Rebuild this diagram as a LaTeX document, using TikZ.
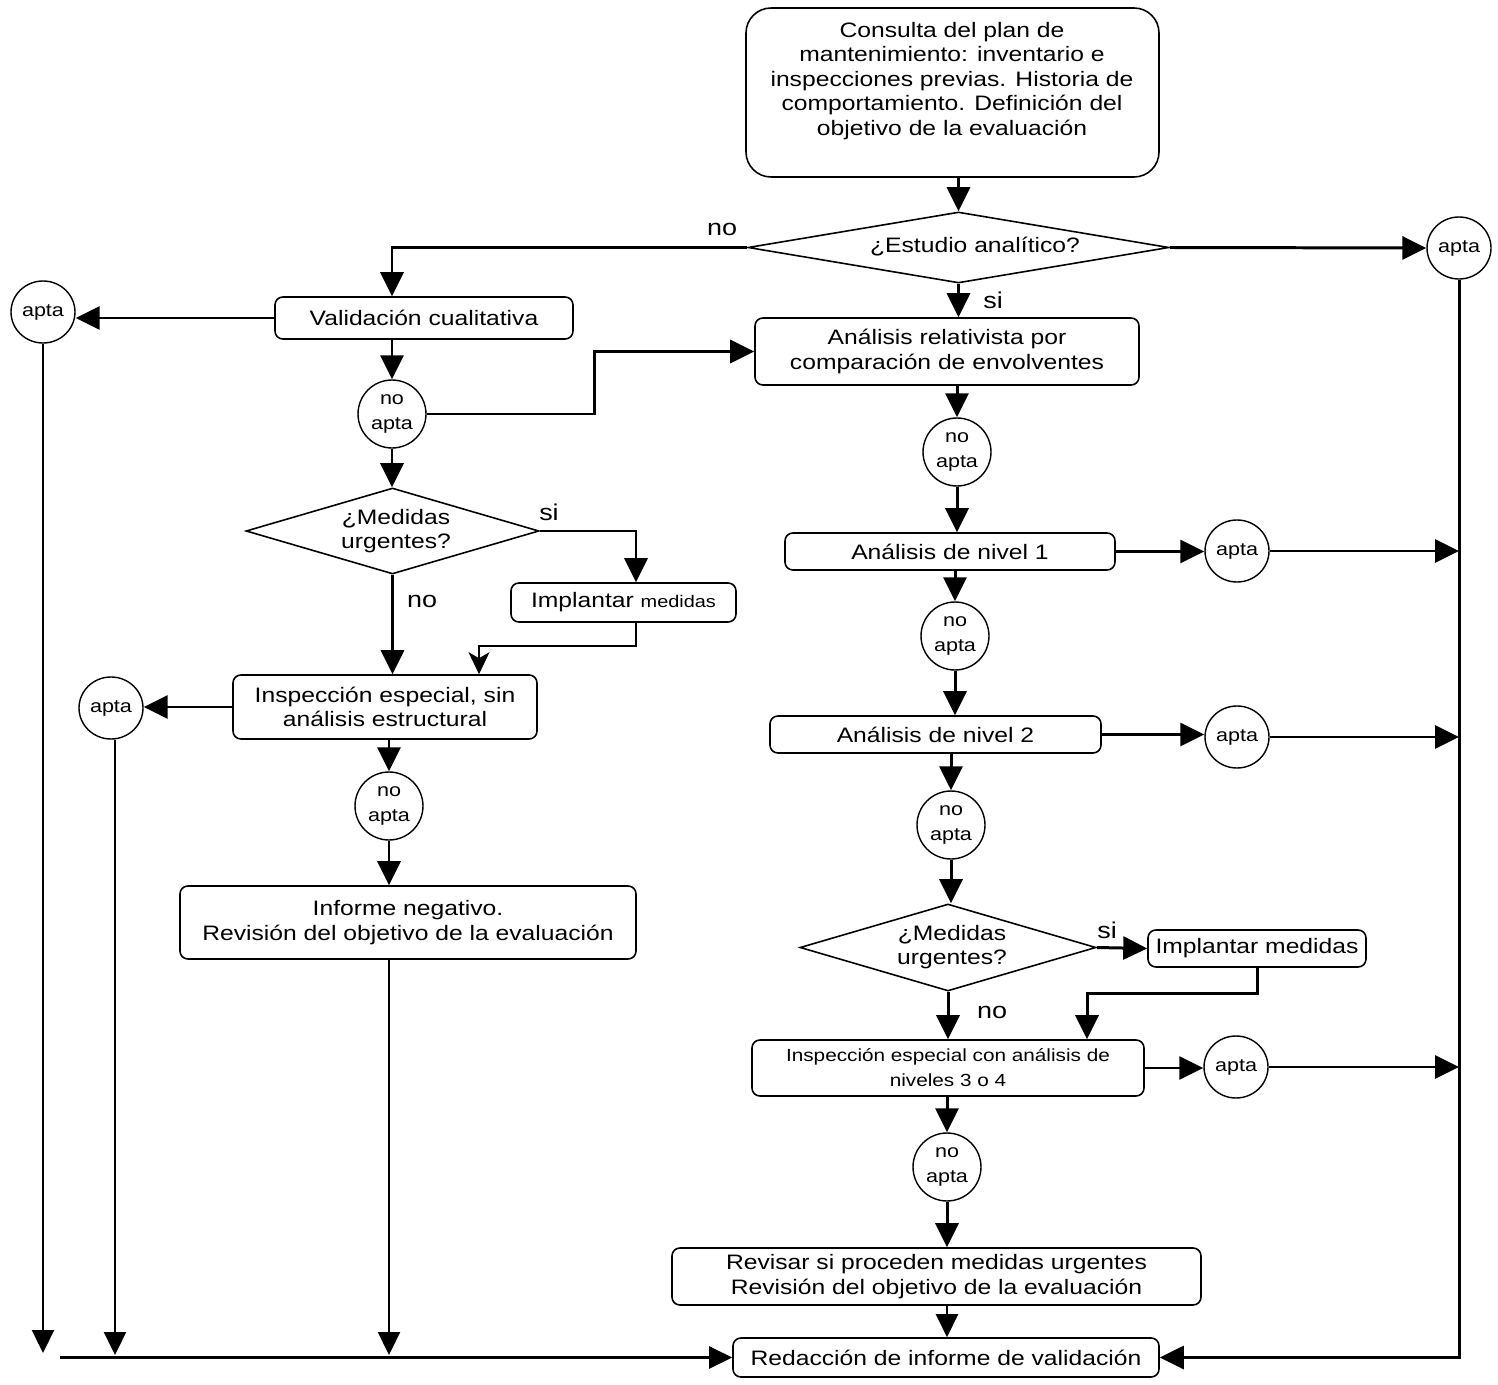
\documentclass[tikz,border=0pt]{standalone}
\usepackage{fontspec}
\setmainfont{Liberation Sans}[FakeStretch=1.18]
\usetikzlibrary{arrows.meta,shapes.geometric}
\tikzset{
  mainf/.style={font=\fontsize{11.9}{14}\selectfont},
  box/.style={draw, line width=0.9pt, rounded corners=4.5pt, inner sep=0pt, align=center, mainf},
  sz/.style 2 args={minimum width=#1*0.02cm, minimum height=#2*0.02cm},
  circ/.style={draw, ellipse, line width=0.8pt, inner sep=0pt, align=center, font=\fontsize{10.4}{14.5}\selectfont},
  apta/.style={circ, minimum width=1.28cm, minimum height=1.24cm},
  noapta/.style={circ, minimum width=1.36cm, minimum height=1.36cm},
  dia/.style={draw, diamond, line width=0.9pt, inner sep=0pt},
  txt/.style={align=center, inner sep=0pt, mainf},
  lab/.style={align=center, inner sep=0pt, font=\fontsize{13}{15}\selectfont},
  ar/.style={line width=1.7pt, -{Triangle[length=0.48cm,width=0.46cm]}},
  thinar/.style={line width=1.3pt, -{Triangle[length=0.46cm,width=0.44cm]}},
  notchar/.style={line width=1.2pt, -{Stealth[length=0.44cm,width=0.42cm,inset=0.12cm]}}
}
\begin{document}
\begin{tikzpicture}[x=0.02cm,y=-0.02cm]
\useasboundingbox (0,0) rectangle (1498,1385);
% ---------- nodes ----------
\node[box, rounded corners=0.5cm, sz={413}{169}] (top) at (952.5,92.5) {};
\node[txt] (toptxt) at (952,81) {Consulta del plan de\\mantenimiento: inventario e\\inspecciones previas. Historia de\\comportamiento. Definición del\\objetivo de la evaluación};
\node[dia, minimum width=421*0.02cm, minimum height=71*0.02cm] (d1) at (958.5,247.5) {};
\node[txt] (d1t) at (975,247) {¿Estudio analítico?};
\node[apta] (ap0) at (1459,248) {apta};

\node[box, sz={298}{42}] (val) at (424,318) {Validación cualitativa};
\node[apta] (ap1) at (43,312) {apta};
\node[noapta] (na1) at (392,414) {no\\apta};
\node[dia, minimum width=293*0.02cm, minimum height=86*0.02cm] (d2) at (392.5,531) {};
\node[txt] (d2t) at (396,531) {¿Medidas\\urgentes?};
\node[box, sz={225}{39}] (imp1) at (623.5,602.5) {Implantar {\fontsize{9.6}{12}\selectfont medidas}};
\node[box, sz={304}{64}] (insp1) at (385,707) {Inspección especial, sin\\análisis estructural};
\node[apta] (ap2) at (111,708) {apta};
\node[noapta] (na2) at (389,806) {no\\apta};
\node[box, sz={456}{73}] (inf) at (408,922.5) {Informe negativo.\\Revisión del objetivo de la evaluación};

\node[box, sz={384}{67}] (rel) at (947,351.5) {Análisis relativista por\\comparación de envolventes};
\node[noapta] (na3) at (957,452) {no\\apta};
\node[box, sz={330}{37}] (n1) at (950,551.5) {Análisis de nivel 1};
\node[apta] (ap3) at (1237,551) {apta};
\node[noapta] (na4) at (955,636) {no\\apta};
\node[box, sz={331}{37}] (n2) at (935.5,734.5) {Análisis de nivel 2};
\node[apta] (ap4) at (1237,737) {apta};
\node[noapta] (na5) at (951,825) {no\\apta};
\node[dia, minimum width=296*0.02cm, minimum height=87*0.02cm] (d3) at (948,947.5) {};
\node[txt] (d3t) at (952,947) {¿Medidas\\urgentes?};
\node[box, sz={218}{37}] (imp2) at (1257,948.5) {Implantar medidas};
\node[box, sz={392}{56}, font=\fontsize{10}{14.2}\selectfont] (insp2) at (948,1068) {Inspección especial con análisis de\\niveles 3 o 4};
\node[apta] (ap5) at (1236,1067) {apta};
\node[noapta] (na6) at (947,1167) {no\\apta};
\node[box, sz={529}{57}] (rev) at (936.5,1276.5) {Revisar si proceden medidas urgentes\\Revisión del objetivo de la evaluación};
\node[box, sz={426}{39}] (red) at (946,1357.5) {Redacción de informe de validación};

% labels
\node[lab] (l1) at (722,229) {no};
\node[lab] (l2) at (993,300) {si};
\node[lab] (l3) at (549,512) {si};
\node[lab] (l4) at (422,601) {no};
\node[lab] (l5) at (1107,930) {si};
\node[lab] (l6) at (992,1012) {no};

% free ends
\coordinate (b0) at (60,1355);
\coordinate (b1) at (43,1353);
\coordinate (b2) at (115,1355);
\coordinate (b3) at (389,1355);
\coordinate (r1) at (1459,551);
\coordinate (r2) at (1459,737);
\coordinate (r3) at (1459,1067);

% ---------- connectors ----------
\draw[ar] (d1.north |- top.south) -- (d1.north);
\draw[ar] (d1.west) -| (na1.north |- val.north);
\draw[ar] (d1.east) -- (ap0.west);
\draw[ar] (ap0.south) |- (red.east);
\draw[ar] (d1.south) -- (d1.south |- rel.north);

\draw[ar] (val.west) -- (val.west -| ap1.east);
\draw[thinar] (ap1.south) -- (b1);
\draw[ar] (na1.north |- val.south) -- (na1.north);
\draw[ar] (na1.east) -- ++(168,0) |- (rel.west);
\draw[ar] (na1.south) -- (na1.south |- d2.north);
\draw[ar] (d2.east) -| ([xshift=0.25cm]imp1.north);
\draw[ar] (d2.south) -- (d2.south |- insp1.north);
\draw[notchar] ([xshift=0.25cm]imp1.south) -- ++(0,23) -| ([xshift=94*0.02cm]insp1.north);
\draw[ar] (insp1.west) -- (insp1.west -| ap2.east);
\draw[thinar] (b2 |- ap2.south) -- (b2);
\draw[ar] (na2.north |- insp1.south) -- (na2.north);
\draw[ar] (na2.south) -- (na2.south |- inf.north);
\draw[thinar] (b3 |- inf.south) -- (b3);
\draw[thinar] (b0 |- red.west) -- (red.west);

\draw[ar] (na3.north |- rel.south) -- (na3.north);
\draw[ar] (na3.south) -- (na3.south |- n1.north);
\draw[ar] (n1.east) -- (n1.east -| ap3.west);
\draw[ar] (ap3.east) -- (r1);
\draw[ar] (na4.north |- n1.south) -- (na4.north);
\draw[ar] (na4.south) -- (na4.south |- n2.north);
\draw[ar] (n2.east) -- (n2.east -| ap4.west);
\draw[ar] (ap4.east) -- (r2);
\draw[ar] (na5.north |- n2.south) -- (na5.north);
\draw[ar] (na5.south) -- (na5.south |- d3.north);
\draw[ar] (d3.east) -- (imp2.west);
\draw[ar] (imp2.south) -- ++(0,26) -| ([xshift=139*0.02cm]insp2.north);
\draw[ar] (d3.south) -- (d3.south |- insp2.north);
\draw[ar] (insp2.east) -- (insp2.east -| ap5.west);
\draw[ar] (ap5.east) -- (r3);
\draw[ar] (na6.north |- insp2.south) -- (na6.north);
\draw[ar] (na6.south) -- (na6.south |- rev.north);
\draw[thinar] (na6.south |- rev.south) -- (na6.south |- red.north);
\end{tikzpicture}
\end{document}
